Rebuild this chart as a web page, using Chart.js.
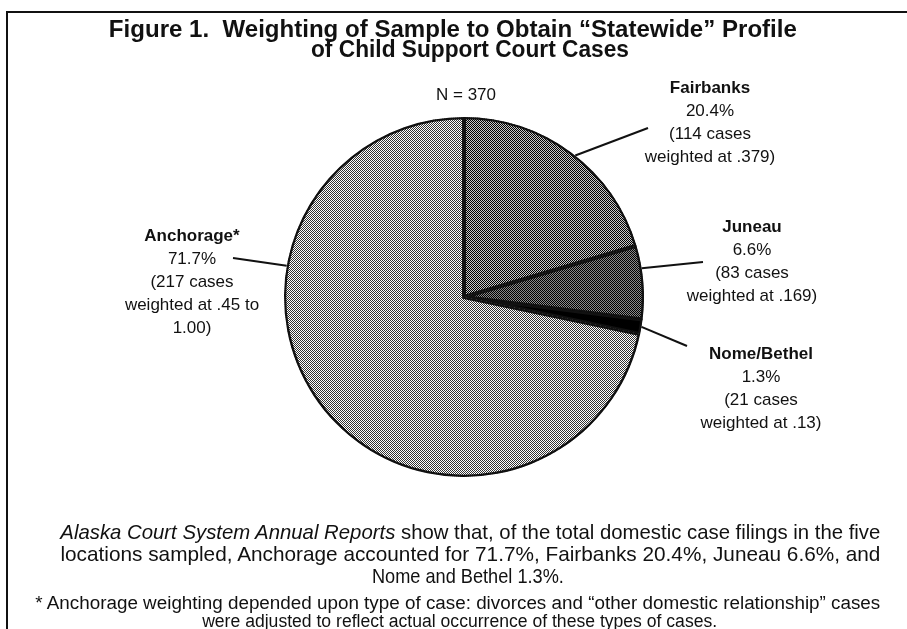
<!DOCTYPE html>
<html>
<head>
<meta charset="utf-8">
<script src="https://cdn.jsdelivr.net/npm/chart.js@4.4.0/dist/chart.umd.min.js"></script>
<style>
  body { margin: 0; background: #fff; width: 907px; height: 629px; overflow: hidden; position: relative; font-family: "Liberation Sans", Arial, sans-serif; color: #111; }
  #frame { position: absolute; left: 6px; top: 11px; width: 910px; height: 640px; border-left: 2px solid #111; border-top: 2px solid #111; }
  #c { position: absolute; left: 0; top: 0; }
  .t { position: absolute; text-align: center; white-space: nowrap; }
  .lab { font-size: 17px; line-height: 23px; }
  .ln { position: absolute; white-space: nowrap; transform-origin: 50% 50%; }
  .title { font-weight: bold; font-size: 23px; }
  .cap { font-size: 21px; }
  .foot { font-size: 18px; }
</style>
</head>
<body>
<div id="frame"></div>
<canvas id="c" width="907" height="629"></canvas>

<div class="ln title" data-w="688" data-x="453" data-y="29">Figure 1.&nbsp; Weighting of Sample to Obtain “Statewide” Profile</div>
<div class="ln title" data-w="318" data-x="470" data-y="49">of Child Support Court Cases</div>

<div class="t lab" style="left:416px;width:100px;top:83px;">N = 370</div>
<div class="t lab" style="left:630px;width:160px;top:76px;"><b>Fairbanks</b><br>20.4%<br>(114 cases<br>weighted at .379)</div>
<div class="t lab" style="left:672px;width:160px;top:215px;"><b>Juneau</b><br>6.6%<br>(83 cases<br>weighted at .169)</div>
<div class="t lab" style="left:681px;width:160px;top:342px;"><b>Nome/Bethel</b><br>1.3%<br>(21 cases<br>weighted at .13)</div>
<div class="t lab" style="left:112px;width:160px;top:224px;"><b>Anchorage*</b><br>71.7%<br>(217 cases<br>weighted at .45 to<br>1.00)</div>

<div class="ln cap" data-w="820" data-x="470" data-y="532"><i>Alaska Court System Annual Reports</i> show that, of the total domestic case filings in the five</div>
<div class="ln cap" data-w="820" data-x="470" data-y="554">locations sampled, Anchorage accounted for 71.7%, Fairbanks 20.4%, Juneau 6.6%, and</div>
<div class="ln cap" data-w="192" data-x="468" data-y="576">Nome and Bethel 1.3%.</div>
<div class="ln foot" data-w="845" data-x="458" data-y="603">* Anchorage weighting depended upon type of case: divorces and “other domestic relationship” cases</div>
<div class="ln foot" data-w="515" data-x="460" data-y="621">were adjusted to reflect actual occurrence of these types of cases.</div>

<script>
// data
const locations = ['Fairbanks', 'Juneau', 'Nome/Bethel', 'Anchorage'];
const shares = [20.4, 6.6, 1.3, 71.7];
const cases = [114, 83, 21, 217];

// condensed text: squeeze each line into the span it takes in the figure
document.querySelectorAll('.ln').forEach(function (el) {
  const box = el.getBoundingClientRect();
  el.style.left = (+el.dataset.x - box.width / 2) + 'px';
  el.style.top = (+el.dataset.y - box.height / 2) + 'px';
  el.style.transform = 'scaleX(' + (+el.dataset.w / box.width) + ')';
});

// screen-tone style fills
function tone(dark, light) {
  const t = document.createElement('canvas');
  t.width = 2; t.height = 2;
  const g = t.getContext('2d');
  g.fillStyle = light; g.fillRect(0, 0, 2, 2);
  g.fillStyle = dark; g.fillRect(0, 0, 1, 1); g.fillRect(1, 1, 1, 1);
  return g.createPattern(t, 'repeat');
}
const fills = [tone('#000', '#c8c8c8'), tone('#000', '#8a8a8a'), '#000', tone('#333', '#fff')];

// where each leader line leaves the slice (fraction of the slice) and where it ends
const leaders = [
  { at: 0.52, to: [648, 128] },
  { at: 0.31, to: [703, 262] },
  { at: 0.5, to: [687, 346] },
  { at: 0.69, to: [233, 258] }
];

const leaderPlugin = {
  id: 'leaders',
  afterDatasetsDraw(chart) {
    const ctx = chart.ctx;
    const arcs = chart.getDatasetMeta(0).data;
    ctx.save();
    ctx.strokeStyle = '#111';
    ctx.lineWidth = 2;
    arcs.forEach(function (arc, i) {
      const p = arc.getProps(['x', 'y', 'startAngle', 'endAngle', 'outerRadius'], true);
      const a = p.startAngle + leaders[i].at * (p.endAngle - p.startAngle);
      ctx.beginPath();
      ctx.moveTo(p.x + p.outerRadius * Math.cos(a), p.y + p.outerRadius * Math.sin(a));
      ctx.lineTo(leaders[i].to[0], leaders[i].to[1]);
      ctx.stroke();
    });
    ctx.restore();
  }
};

new Chart(document.getElementById('c'), {
  type: 'pie',
  data: {
    labels: locations,
    datasets: [{
      data: shares,
      backgroundColor: fills,
      borderColor: '#111',
      borderWidth: 2,
      borderAlign: 'inner'
    }]
  },
  options: {
    responsive: false,
    animation: false,
    layout: { padding: { left: 284, right: 263, top: 117, bottom: 152 } },
    plugins: { legend: { display: false }, tooltip: { enabled: false } }
  },
  plugins: [leaderPlugin]
});
</script>
</body>
</html>
